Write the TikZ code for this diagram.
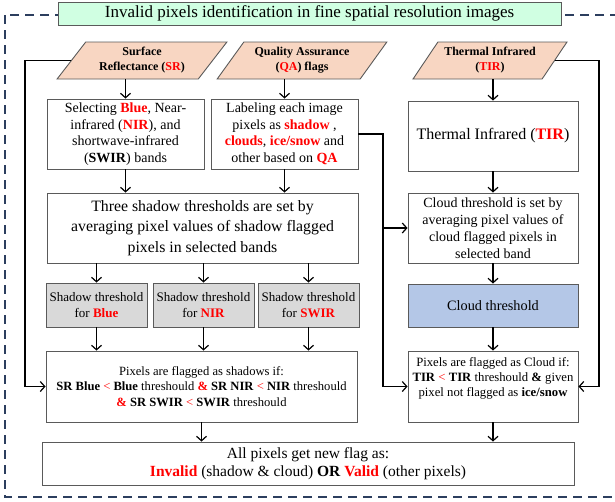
\documentclass[tikz,border=0pt]{standalone}
\usepackage{fontspec}
\setmainfont{Liberation Serif}
\usepackage{tikz}
\usetikzlibrary{shapes.geometric,arrows.meta}
\definecolor{peach}{RGB}{248,214,194}
\definecolor{mint}{RGB}{208,255,226}
\definecolor{greyfill}{RGB}{217,217,217}
\definecolor{bluefill}{RGB}{180,199,231}
\definecolor{navy}{RGB}{44,62,94}
\definecolor{boxline}{RGB}{90,90,90}
\newcommand{\rd}[1]{\textcolor{red}{\textbf{#1}}}
\newcommand{\fs}[2]{\fontsize{#1}{#2}\selectfont}

\begin{document}
\begin{tikzpicture}[x=1pt,y=1pt]
    \tikzstyle{every node}+=[inner sep=0pt, align=center]
    \tikzstyle{box}=[draw=boxline, line width=0.9pt, fill=white]
    \tikzstyle{para}=[trapezium, trapezium left angle=50, trapezium right angle=130,
        trapezium stretches=true, draw=boxline, line width=0.9pt, fill=peach,
        minimum height=37, font=\fs{12}{15}\bfseries]
    \tikzstyle{arr}=[line width=1.2pt, -{Straight Barb[length=4.5pt,width=10pt]}]
    \useasboundingbox (0,0) rectangle (615,-501);
    \draw [navy, line width=1.6pt, dash pattern=on 9pt off 6pt] (5,-15) rectangle (640,-497);
    \node [box, fill=mint, minimum width=503, minimum height=23, font=\fs{17}{19}] (title) at (309.5,-13.5)
        {Invalid pixels identification in fine spatial resolution images};
    \node [para, minimum width=170] (sr) at (142,-60.5) {Surface\\Reflectance (\rd{SR})};
    \node [para, minimum width=170] (qa) at (302,-60.5) {Quality Assurance\\(\rd{QA}) flags};
    \node [para, minimum width=154] (tir) at (490,-60.5) {Thermal Infrared\\(\rd{TIR})};
    \node [box, minimum width=157, minimum height=70, font=\fs{14}{16.5}] (sel) at (125.5,-134)
        {Selecting \rd{Blue}, Near-\\infrared (\rd{NIR}), and\\shortwave-infrared\\(\textbf{SWIR}) bands};
    \node [box, minimum width=147, minimum height=70, font=\fs{14}{16.5}] (lab) at (284.5,-134)
        {Labeling each image\\pixels as \rd{shadow} ,\\\rd{clouds}, \rd{ice/snow} and\\other based on \rd{QA}};
    \node [box, minimum width=311, minimum height=70, font=\fs{15.8}{20.5}] (three) at (202.5,-228)
        {Three shadow thresholds are set by\\averaging pixel values of shadow flagged\\pixels in selected bands};
    \node [box, fill=greyfill, minimum width=101, minimum height=44, font=\fs{13}{15.5}] (tblue) at (96.5,-305)
        {Shadow threshold\\for \rd{Blue}};
    \node [box, fill=greyfill, minimum width=101, minimum height=44, font=\fs{13}{15.5}] (tnir) at (203.5,-305)
        {Shadow threshold\\for \rd{NIR}};
    \node [box, fill=greyfill, minimum width=101, minimum height=44, font=\fs{13}{15.5}] (tswir) at (308.5,-305)
        {Shadow threshold\\for \rd{SWIR}};
    \node [box, minimum width=311, minimum height=71, font=\fs{12.6}{15.5}] (shd) at (201.5,-386.5)
        {Pixels are flagged as shadows if:\\
         \textbf{SR Blue} \textcolor{red}{<} \textbf{Blue} threshould \rd{\&} \textbf{SR NIR} \textcolor{red}{<} \textbf{NIR} threshould\\
         \rd{\&} \textbf{SR SWIR} \textcolor{red}{<} \textbf{SWIR} threshould};
    \node [box, minimum width=170, minimum height=70, font=\fs{16}{18}] (tirb) at (493,-136)
        {Thermal Infrared (\rd{TIR})};
    \node [box, minimum width=170, minimum height=70, font=\fs{14}{17}] (cset) at (493,-228)
        {Cloud threshold is set by\\averaging pixel values of\\cloud flagged pixels in\\selected band};
    \node [box, fill=bluefill, minimum width=170, minimum height=43, font=\fs{14.3}{16}] (cth) at (493,-305.5)
        {Cloud threshold};
    \node [box, minimum width=170, minimum height=71, font=\fs{12.7}{15}] (cld) at (493,-386.5)
        {Pixels are flagged as Cloud if:\\
         \textbf{TIR} \textcolor{red}{<} \textbf{TIR} threshould \textbf{\&} given\\
         pixel not flagged as \textbf{ice/snow}\\[4pt]};
    \node [box, minimum width=532, minimum height=43, font=\fs{15.5}{18}] (fin) at (308,-463.5)
        {All pixels get new flag as:\\
         \rd{Invalid} (shadow \& cloud) \textbf{OR} \rd{Valid} (other pixels)};
    \coordinate (lbus) at (25,0);
    \coordinate (qbus) at (383,0);
    \coordinate (rbus) at (599,0);
    \draw [arr] (sr.south -| sel.north) -- (sel.north);
    \draw [arr] (qa.south -| lab.north) -- (lab.north);
    \draw [arr] (tir.south -| tirb.north) -- (tirb.north);
    \draw [arr] (sel.south) -- (sel.south |- three.north);
    \draw [arr] (lab.south) -- (lab.south |- three.north);
    \draw [arr] (three.south -| tblue.north) -- (tblue.north);
    \draw [arr] (three.south -| tnir.north) -- (tnir.north);
    \draw [arr] (three.south -| tswir.north) -- (tswir.north);
    \draw [arr] (tblue.south) -- (tblue.south |- shd.north);
    \draw [arr] (tnir.south) -- (tnir.south |- shd.north);
    \draw [arr] (tswir.south) -- (tswir.south |- shd.north);
    \draw [arr] (tirb) -- (cset);
    \draw [arr] (cset) -- (cth);
    \draw [arr] (cth) -- (cld);
    \draw [arr] (shd.south) -- (shd.south |- fin.north);
    \draw [arr] (cld.south) -- (cld.south |- fin.north);
    \draw [arr] (sr.west) -- (sr.west -| lbus) -- (lbus |- shd.west) -- (shd.west);
    \draw [arr] (lab.east) -- (lab.east -| qbus) -- (qbus |- cld.west) -- (cld.west);
    \draw [arr] (qbus |- cset.west) -- (cset.west);
    \draw [arr] (tir.east) -- (tir.east -| rbus) -- (rbus |- cld.east) -- (cld.east);
\end{tikzpicture}
\end{document}
